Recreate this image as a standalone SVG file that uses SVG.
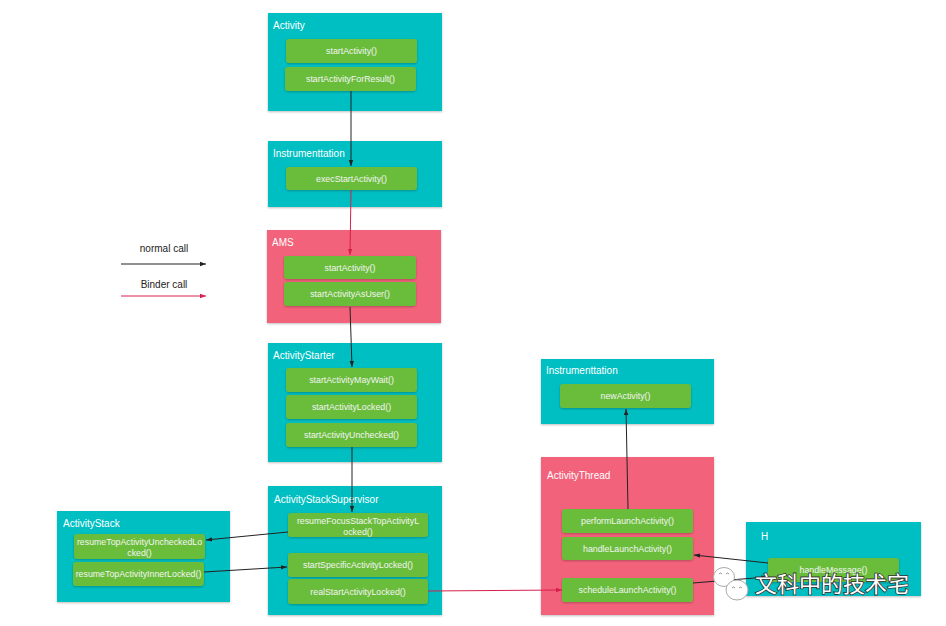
<svg xmlns="http://www.w3.org/2000/svg" width="946" height="626" viewBox="0 0 946 626">
<defs>
<style>
.teal{fill:#00BFC2}
.pink{fill:#F2627A}
.btn{fill:#6ABD3A}
.box{filter:url(#sh)}
.title{font-family:"Liberation Sans",Arial,sans-serif;font-size:10px;fill:#fff}
.bt{font-family:"Liberation Sans",Arial,sans-serif;font-size:8.8px;fill:#f4f4f4;text-anchor:middle}
.leg{font-family:"Liberation Sans",Arial,sans-serif;font-size:10px;fill:#222;text-anchor:middle}
.n{stroke:#222;stroke-width:1;fill:none;marker-end:url(#an)}
.b{stroke:#D6204C;stroke-width:1;fill:none;marker-end:url(#ab)}
.wm{font-family:"Noto Sans CJK SC",sans-serif;font-size:22px;fill:#fff;stroke:#333;stroke-width:1.6;paint-order:stroke}
</style>
<filter id="sh" x="-10%" y="-10%" width="120%" height="130%">
<feDropShadow dx="0" dy="1" stdDeviation="1" flood-color="#000" flood-opacity="0.25"/>
</filter>
<marker id="an" viewBox="0 0 6 6" refX="6" refY="3" markerWidth="6" markerHeight="6" markerUnits="userSpaceOnUse" orient="auto"><path d="M0,0.8 L6,3 L0,5.2 Z" fill="#222"/></marker>
<marker id="ab" viewBox="0 0 6 6" refX="6" refY="3" markerWidth="6" markerHeight="6" markerUnits="userSpaceOnUse" orient="auto"><path d="M0,0.8 L6,3 L0,5.2 Z" fill="#D6204C"/></marker>
</defs>
<rect width="946" height="626" fill="#fff"/>

<g id="legend">
<text class="leg" x="164" y="252">normal call</text>
<text class="leg" x="164" y="288">Binder call</text>
<path class="n" d="M121,264 L206,264"/>
<path class="b" d="M121,296 L206,296"/>
</g>

<g id="activity">
<rect class="teal box" x="268" y="13" width="174" height="98"/>
<text class="title" x="273" y="29">Activity</text>
<rect class="btn box" x="286" y="39" width="131" height="24" rx="3"/>
<text class="bt" x="351.5" y="54">startActivity()</text>
<rect class="btn box" x="285" y="67" width="131" height="24" rx="3"/>
<text class="bt" x="350.5" y="82">startActivityForResult()</text>
</g>

<g id="instrumentation1">
<rect class="teal box" x="268" y="141" width="174" height="66"/>
<text class="title" x="273" y="157">Instrumenttation</text>
<rect class="btn box" x="286" y="167" width="131" height="23" rx="3"/>
<text class="bt" x="351.5" y="181.5">execStartActivity()</text>
</g>

<g id="ams">
<rect class="pink box" x="267" y="230" width="174" height="93"/>
<text class="title" x="272" y="246">AMS</text>
<rect class="btn box" x="284" y="256" width="132" height="23" rx="3"/>
<text class="bt" x="350" y="270.5">startActivity()</text>
<rect class="btn box" x="284" y="282" width="132" height="24" rx="3"/>
<text class="bt" x="350" y="297">startActivityAsUser()</text>
</g>

<g id="activityStarter">
<rect class="teal box" x="268" y="343" width="174" height="119"/>
<text class="title" x="273" y="359">ActivityStarter</text>
<rect class="btn box" x="286" y="368" width="131" height="24" rx="3"/>
<text class="bt" x="351.5" y="383">startActivityMayWait()</text>
<rect class="btn box" x="286" y="395" width="131" height="24" rx="3"/>
<text class="bt" x="351.5" y="410">startActivityLocked()</text>
<rect class="btn box" x="286" y="423" width="131" height="24" rx="3"/>
<text class="bt" x="351.5" y="438">startActivityUnchecked()</text>
</g>

<g id="activityStackSupervisor">
<rect class="teal box" x="268" y="486" width="174" height="129"/>
<text class="title" x="274" y="503">ActivityStackSupervisor</text>
<rect class="btn box" x="288" y="513" width="140" height="24" rx="3"/>
<text class="bt" x="358" y="523.5">resumeFocusStackTopActivityL</text>
<text class="bt" x="358" y="534.5">ocked()</text>
<rect class="btn box" x="288" y="553" width="140" height="24" rx="3"/>
<text class="bt" x="358" y="568">startSpecificActivityLocked()</text>
<rect class="btn box" x="288" y="579" width="140" height="25" rx="3"/>
<text class="bt" x="358" y="594.5">realStartActivityLocked()</text>
</g>

<g id="activityStack">
<rect class="teal box" x="57" y="511" width="173" height="91"/>
<text class="title" x="63" y="527">ActivityStack</text>
<rect class="btn box" x="74" y="534" width="131" height="25" rx="3"/>
<text class="bt" x="139.5" y="544.5">resumeTopActivityUncheckedLo</text>
<text class="bt" x="139.5" y="555.5">cked()</text>
<rect class="btn box" x="73" y="562" width="131" height="24" rx="3"/>
<text class="bt" x="138.5" y="577">resumeTopActivityInnerLocked()</text>
</g>

<g id="instrumentation2">
<rect class="teal box" x="541" y="359" width="173" height="65"/>
<text class="title" x="546" y="374">Instrumenttation</text>
<rect class="btn box" x="560" y="384" width="131" height="24" rx="3"/>
<text class="bt" x="625.5" y="399">newActivity()</text>
</g>

<g id="activityThread">
<rect class="pink box" x="541" y="457" width="173" height="158"/>
<text class="title" x="547" y="479">ActivityThread</text>
<rect class="btn box" x="562" y="509" width="131" height="24" rx="3"/>
<text class="bt" x="627.5" y="524">performLaunchActivity()</text>
<rect class="btn box" x="562" y="537" width="131" height="23" rx="3"/>
<text class="bt" x="627.5" y="551.5">handleLaunchActivity()</text>
<rect class="btn box" x="562" y="578" width="131" height="24" rx="3"/>
<text class="bt" x="627.5" y="593">scheduleLaunchActivity()</text>
</g>

<g id="h">
<rect class="teal box" x="746" y="522" width="175" height="74"/>
<text class="title" x="761" y="540">H</text>
<rect class="btn box" x="768" y="558" width="131" height="24" rx="3"/>
<text class="bt" x="833.5" y="573">handleMessage()</text>
</g>

<g id="connectors">
<path class="n" d="M351,91 L351,166"/>
<path class="b" d="M351,190 L350,255"/>
<path class="n" d="M350,307 L352,367"/>
<path class="n" d="M352,447 L352,512"/>
<path class="n" d="M288,532 L206,540"/>
<path class="n" d="M204,572 L287,567"/>
<path class="b" d="M428,591 L562,590"/>
<path class="n" d="M628,509 L626,409"/>
<path class="n" d="M768,563 L694,555"/>
<path class="n" d="M693,583 L767,577"/>
</g>

<g id="watermark">
<ellipse cx="724" cy="577" rx="10.5" ry="9.5" fill="#fff" stroke="#aaa" stroke-width="1"/>
<ellipse cx="737" cy="590" rx="11" ry="10" fill="#fff" stroke="#aaa" stroke-width="1"/>
<path d="M719,574 q1.5,-2 3,0 M726,574 q1.5,-2 3,0 M732,588 q1.5,-2 3,0 M739,588 q1.5,-2 3,0" fill="none" stroke="#888" stroke-width="0.9"/>
<text class="wm" x="755" y="592">文科中的技术宅</text>
</g>
</svg>
